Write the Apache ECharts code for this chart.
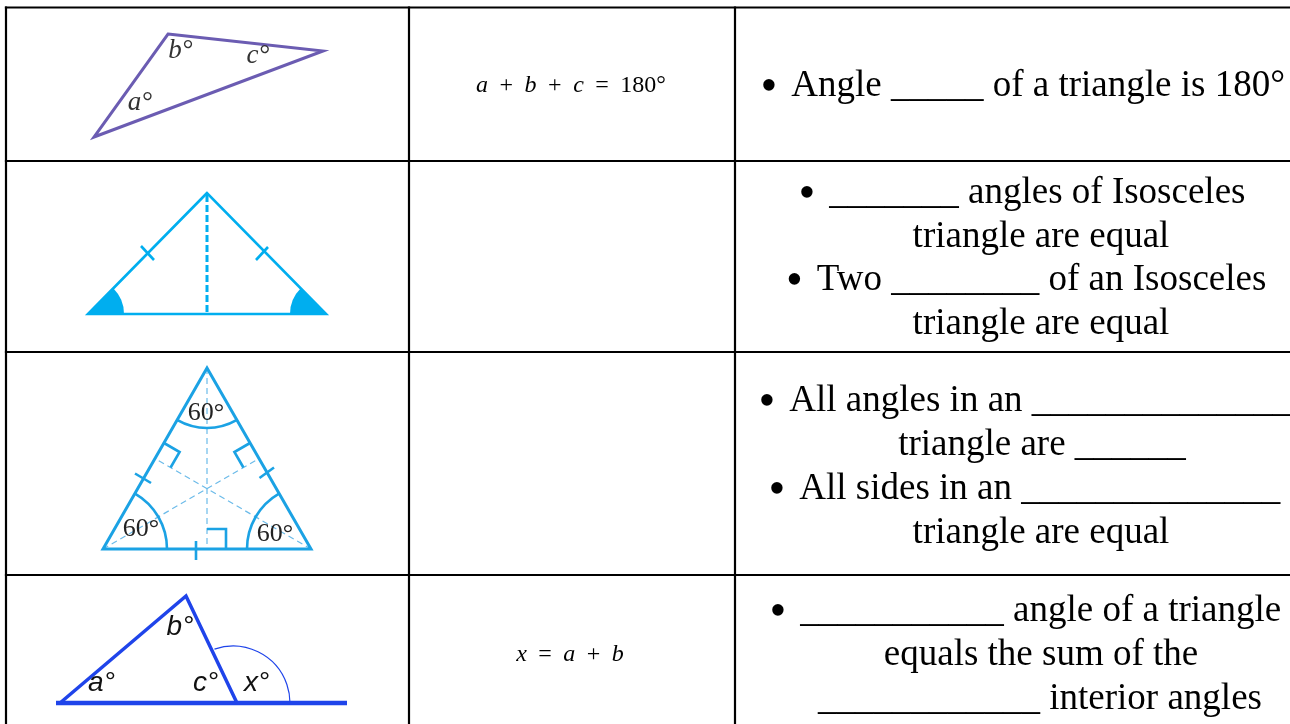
<!DOCTYPE html>
<html><head><meta charset="utf-8">
<script src="https://cdn.jsdelivr.net/npm/echarts@6.0.0/dist/echarts.min.js"></script>
<style>html,body{margin:0;padding:0;background:#fff}#main{width:1290px;height:724px}</style>
</head><body><div id="main"></div>
<script>
// ---------- data (pixel units of the 1290x724 sheet) ----------
const sheetSize = [1290, 724];
const tableColumnX = [6, 409, 735];
const tableRowY = [7.5, 161, 352, 575];

// row 1 : scalene triangle (purple)
const tri1Vertices = [[168, 34], [323, 51], [94, 137]];
const tri1LabelText = ['b°', 'c°', 'a°'];
const tri1LabelPos = [[180.5, 51], [258, 56], [140, 103]];

// row 2 : isosceles triangle (cyan)
const tri2Vertices = [[207, 193], [88, 314], [326, 314]];
const tri2Altitude = [[[207, 195], [207, 314]]];
const tri2Ticks = [[[141, 246], [154, 260]], [[268, 247], [256, 260]]];
const tri2Sectors = [[88, 314, 36, -45, 0], [326, 314, 36, 180, 225]]; // cx, cy, r, startDeg, endDeg

// row 3 : equilateral triangle
const tri3Vertices = [[207, 368], [103, 549], [311, 549]];
const tri3Medians = [[[207, 368], [207, 549]], [[103, 549], [259, 458.5]], [[311, 549], [155, 458.5]]];
const tri3RightAngles = [[[207, 529], [226, 529], [226, 549]], [[164, 443], [179.6, 452], [170.6, 467.5]], [[250, 443], [234.4, 452], [243.4, 467.5]]];
const tri3Ticks = [[[196, 541], [196, 560]], [[135, 473.5], [151, 483]], [[259.5, 478], [274, 467.5]]];
const tri3Arcs = [[207, 368, 60, 60, 120], [103, 549, 64, 300, 360], [311, 549, 64, 180, 240]];
const tri3LabelText = ['60°', '60°', '60°'];
const tri3LabelPos = [[206, 413], [141, 529], [275, 534]];

// row 4 : exterior angle
const tri4Base = [[[56, 703], [347, 703]]];
const tri4Sides = [[[60, 703], [186, 596], [237, 703]]];
const tri4Arc = [[233, 703, 57, 251, 360]];
const tri4LabelText = ['a°', 'b°', 'c°', 'x°'];
const tri4LabelPos = [[101.5, 683], [180, 627], [205.5, 683], [256.5, 683]];

// middle column formulas
const formulaText = [
  '{i|a}{s| }{n|+}{s| }{i|b}{s| }{n|+}{s| }{i|c}{s| }{n|=}{s| }{n|180°}',
  '{i|x}{s| }{n|=}{s| }{i|a}{s| }{n|+}{s| }{i|b}'
];
const formulaPos = [[571, 86], [570, 655]];

// right column text
const bulletLineText = [
  'Angle _____ of a triangle is 180°',
  '_______ angles of Isosceles',
  'Two ________ of an Isosceles',
  'All angles in an _______________',
  'All sides in an ______________',
  '___________ angle of a triangle'
];
const bulletLinePos = [[760.5, 86], [798.5, 193], [786, 280], [758.5, 401], [768.5, 489], [769.5, 611]];
const plainLineText = [
  'triangle are equal',
  'triangle are equal',
  'triangle are ______',
  'triangle are equal',
  'equals the sum of the',
  '____________ interior angles'
];
const plainLinePos = [[1041, 237], [1041, 324], [1042, 445], [1041, 533], [1041, 655], [1040, 699]];

// ---------- rendering ----------
const SERIF = '"Liberation Serif","Times New Roman",serif';
const SANS = '"Liberation Sans",Arial,sans-serif';

const tableSegments = [
  ...tableRowY.map(y => [[tableColumnX[0], y], [sheetSize[0], y]]),
  ...tableColumnX.map(x => [[x, tableRowY[0]], [x, sheetSize[1]]])
];

function polySeries(polylines, style, closed) {
  return {
    type: 'custom', coordinateSystem: 'cartesian2d', silent: true, animation: false,
    data: polylines.map(p => p[0]),
    renderItem: (params, api) => {
      const pts = polylines[params.dataIndex].map(pt => api.coord(pt));
      return { type: closed ? 'polygon' : 'polyline', shape: { points: pts },
        style: Object.assign({ fill: 'none', lineJoin: 'miter' }, style) };
    }
  };
}
function arcSeries(arcs, style, filled) {
  return {
    type: 'custom', coordinateSystem: 'cartesian2d', silent: true, animation: false,
    data: arcs.map(a => [a[0], a[1]]),
    renderItem: (params, api) => {
      const a = arcs[params.dataIndex];
      const c = api.coord([a[0], a[1]]);
      const r = api.size([a[2], a[2]])[0];
      const s = a[3] * Math.PI / 180, e = a[4] * Math.PI / 180;
      if (filled) {
        return { type: 'sector', shape: { cx: c[0], cy: c[1], r0: 0, r: r, startAngle: s, endAngle: e, clockwise: true }, style: style };
      }
      return { type: 'arc', shape: { cx: c[0], cy: c[1], r: r, startAngle: s, endAngle: e, clockwise: true },
        style: Object.assign({ fill: 'none' }, style) };
    }
  };
}
function textSeries(positions, texts, style, wrap) {
  return {
    type: 'custom', coordinateSystem: 'cartesian2d', silent: true, animation: false,
    data: positions,
    renderItem: (params, api) => {
      const p = api.coord(positions[params.dataIndex]);
      const t = texts[params.dataIndex];
      return { type: 'text', x: p[0], y: p[1], style: Object.assign({ text: wrap ? wrap(t) : t }, style) };
    }
  };
}

const purple = '#6b5cb2';
const cyan = '#00aeef';
const eqBlue = '#1ba2e4';
const medianBlue = '#6cbbe9';
const royal = '#1f44ea';

const option = {
  animation: false,
  backgroundColor: '#ffffff',
  grid: { left: 0, right: 0, top: 0, bottom: 0 },
  xAxis: { type: 'value', min: 0, max: sheetSize[0], show: false },
  yAxis: { type: 'value', min: 0, max: sheetSize[1], inverse: true, show: false },
  series: [
    polySeries(tableSegments, { stroke: '#000', lineWidth: 2.2, lineCap: 'square' }, false),

    polySeries([tri1Vertices], { stroke: purple, lineWidth: 3 }, true),
    textSeries(tri1LabelPos, tri1LabelText, { fill: '#333', fontSize: 27, fontFamily: SERIF, fontStyle: 'italic', align: 'center', verticalAlign: 'middle' }),

    arcSeries(tri2Sectors, { fill: cyan }, true),
    polySeries([tri2Vertices], { stroke: cyan, lineWidth: 2.6 }, true),
    polySeries(tri2Altitude, { stroke: cyan, lineWidth: 3, lineDash: [7, 3] }, false),
    polySeries(tri2Ticks, { stroke: cyan, lineWidth: 2.6 }, false),

    polySeries(tri3Medians, { stroke: medianBlue, lineWidth: 1.2, lineDash: [6, 4] }, false),
    polySeries([tri3Vertices], { stroke: eqBlue, lineWidth: 3 }, true),
    polySeries(tri3RightAngles, { stroke: eqBlue, lineWidth: 2.6 }, false),
    polySeries(tri3Ticks, { stroke: eqBlue, lineWidth: 2.6 }, false),
    arcSeries(tri3Arcs, { stroke: eqBlue, lineWidth: 2.6 }, false),
    textSeries(tri3LabelPos, tri3LabelText, { fill: '#222', fontSize: 26, fontFamily: SERIF, align: 'center', verticalAlign: 'middle' }),

    polySeries(tri4Base, { stroke: royal, lineWidth: 4.5 }, false),
    polySeries(tri4Sides, { stroke: royal, lineWidth: 3.5 }, false),
    arcSeries(tri4Arc, { stroke: royal, lineWidth: 1.2 }, false),
    textSeries(tri4LabelPos, tri4LabelText, { fill: '#111', fontSize: 28, fontFamily: SANS, fontStyle: 'italic', align: 'center', verticalAlign: 'middle' }),

    textSeries(formulaPos, formulaText, {
      fill: '#000', align: 'center', verticalAlign: 'middle',
      rich: {
        i: { fontSize: 24, fontFamily: SERIF, fontStyle: 'italic', lineHeight: 30, fill: '#000' },
        n: { fontSize: 24, fontFamily: SERIF, lineHeight: 30, fill: '#000' },
        s: { fontSize: 46, fontFamily: SERIF, lineHeight: 30 }
      }
    }),

    textSeries(bulletLinePos, bulletLineText, {
      fill: '#000', align: 'left', verticalAlign: 'middle',
      rich: {
        b: { fontSize: 48, fontFamily: SERIF, lineHeight: 36, verticalAlign: 'top', fill: '#000' },
        g: { fontSize: 56, fontFamily: SERIF, lineHeight: 44 },
        t: { fontSize: 37, fontFamily: SERIF, lineHeight: 44, fill: '#000' }
      }
    }, t => '{b|•}{g| }{t|' + t + '}'),
    textSeries(plainLinePos, plainLineText, { fill: '#000', fontSize: 37, fontFamily: SERIF, align: 'center', verticalAlign: 'middle' })
  ]
};

const chart = echarts.init(document.getElementById('main'), null, { renderer: 'canvas' });
chart.setOption(option);
</script>
</body></html>
